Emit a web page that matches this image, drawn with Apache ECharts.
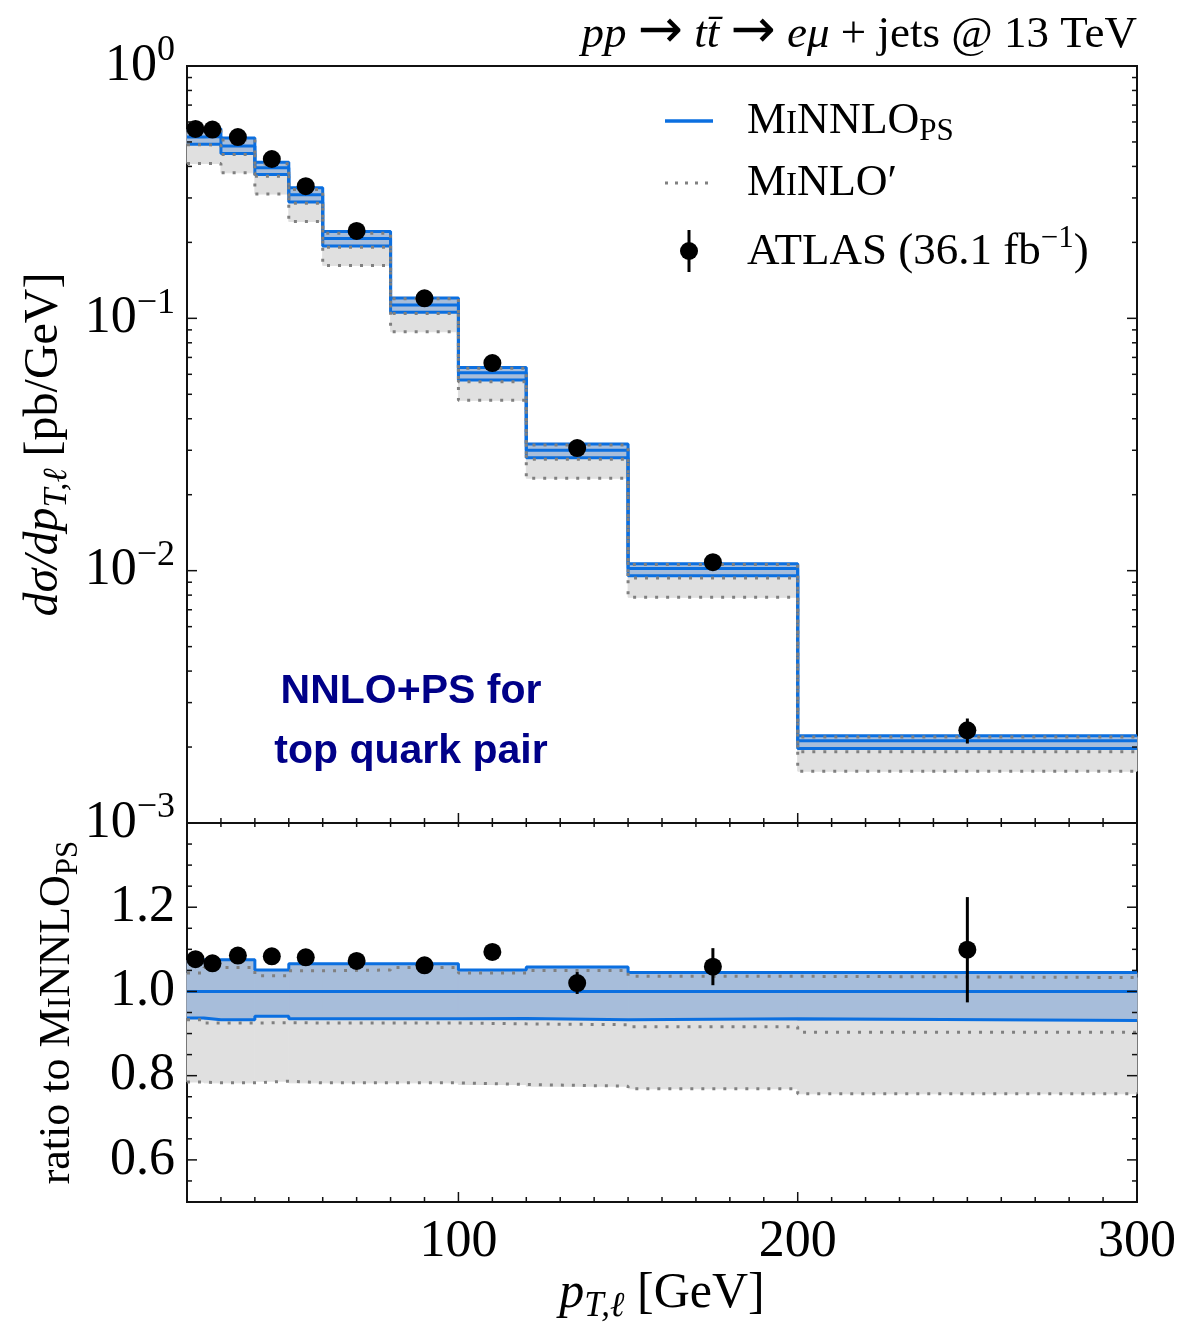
<!DOCTYPE html>
<html>
<head>
<meta charset="utf-8">
<script src="https://cdn.jsdelivr.net/npm/echarts@6/dist/echarts.min.js"></script>
<style>
  html, body { margin: 0; padding: 0; background: #fff; }
  #chart { width: 1179px; height: 1323px; }
</style>
</head>
<body>
<div id="chart"></div>
<script>
// Lepton pT spectrum in ttbar -> e mu + jets, 13 TeV
const binEdges = [20, 25, 30, 40, 50, 60, 80, 100, 120, 150, 200, 300];
const atlasPt = [22.5, 27.5, 35, 45, 55, 70, 90, 110, 135, 175, 250];

// MiNNLO_PS central prediction, dsigma/dpT [pb/GeV]
const minnloCentral = [0.523, 0.525, 0.482, 0.395, 0.309, 0.207, 0.113, 0.0608, 0.0300, 0.0102, 0.00212];
// scale-variation band edges, relative to MiNNLO_PS central
const minnloUpRatio   = [1.075, 1.075, 1.075, 1.051, 1.066, 1.066, 1.066, 1.051, 1.058, 1.045, 1.045];
const minnloDownRatio = [0.937, 0.933, 0.933, 0.941, 0.935, 0.935, 0.935, 0.936, 0.933, 0.935, 0.931];
// MiNLO' central and band, relative to MiNNLO_PS central
const minloCentralRatio = [0.933, 0.925, 0.925, 0.926, 0.925, 0.925, 0.925, 0.923, 0.921, 0.916, 0.903];
const minloUpRatio      = [1.044, 1.057, 1.057, 1.037, 1.049, 1.051, 1.057, 1.044, 1.050, 1.036, 1.033];
const minloDownRatio    = [0.785, 0.783, 0.783, 0.787, 0.783, 0.783, 0.783, 0.779, 0.775, 0.769, 0.757];
// ATLAS data [pb/GeV] and its uncertainty in ratio units
const atlasValue    = [0.563, 0.560, 0.523, 0.428, 0.334, 0.222, 0.120, 0.0665, 0.0306, 0.0108, 0.00233];
const atlasRatioErr = [0.015, 0.015, 0.015, 0.015, 0.015, 0.015, 0.016, 0.018, 0.026, 0.044, 0.125];

// axis tick labels
const ratioTickLabels = ['0.6', '0.8', '1.0', '1.2'];
const ptTickLabels = ['100', '200', '300'];

const SERIF = '"Liberation Serif", "DejaVu Serif", serif';
const SANS = '"Liberation Sans", Arial, sans-serif';
const BLUE = '#0b6fe0';
const BLUE_FILL = '#a7bdda';
const GREY_FILL = '#e0e0e0';
const GREY_LINE = '#808080';
const X_MIN = 20, X_MAX = 300;
const Y_MIN = 0.001, Y_MAX = 1;
const R_MIN = 0.5, R_MAX = 1.4;

// derived quantities
const times = (a, b) => a.map((v, i) => v * b[i]);
const minnloUp = times(minnloCentral, minnloUpRatio);
const minnloDown = times(minnloCentral, minnloDownRatio);
const minloCentral = times(minnloCentral, minloCentralRatio);
const minloUp = times(minnloCentral, minloUpRatio);
const minloDown = times(minnloCentral, minloDownRatio);
const atlasRatio = atlasValue.map((v, i) => v / minnloCentral[i]);
const atlasErr = atlasRatioErr.map((e, i) => e * minnloCentral[i]);
const minnloRatioCentral = minnloCentral.map(v => v / v);

// rich-text styles for math-like labels
function mathRich(size) {
  const sm = Math.round(size * 0.7);
  return {
    r: { fontFamily: SERIF, fontSize: size, color: '#000' },
    i: { fontFamily: SERIF, fontStyle: 'italic', fontSize: size, color: '#000' },
    s: { fontFamily: SERIF, fontStyle: 'italic', fontSize: sm, color: '#000', padding: [Math.round(size * 0.5), 0, 0, 0] },
    ss: { fontFamily: SERIF, fontSize: sm, color: '#000', padding: [Math.round(size * 0.5), 0, 0, 0] },
    sup: { fontFamily: SERIF, fontSize: sm, color: '#000', padding: [0, 0, Math.round(size * 0.6), 0] },
    sc: { fontFamily: SERIF, fontSize: Math.round(size * 0.75), color: '#000', padding: [Math.round(size * 0.165), 0, 0, 0] },
    ar: { fontFamily: '"DejaVu Sans", sans-serif', fontSize: Math.round(size * 1.2), color: '#000', padding: [0, 0, Math.round(size * 0.08), 0] }
  };
}

// histogram helpers
function stepPoints(values) {
  const pts = values.map((v, i) => [binEdges[i], v]);
  pts.push([binEdges[binEdges.length - 1], values[values.length - 1]]);
  return pts;
}
function bandSeries(grid, lo, hi, color, z) {
  return {
    type: 'custom', xAxisIndex: grid, yAxisIndex: grid, z, silent: true,
    data: lo.map((l, i) => [binEdges[i], binEdges[i + 1], l, hi[i]]),
    encode: { x: [0, 1], y: [2, 3] },
    renderItem(params, api) {
      const p1 = api.coord([api.value(0), api.value(3)]);
      const p2 = api.coord([api.value(1), api.value(2)]);
      return { type: 'rect', shape: { x: p1[0], y: p1[1], width: p2[0] - p1[0], height: p2[1] - p1[1] },
               style: { fill: color, stroke: color, lineWidth: 1 } };
    }
  };
}
function stepLine(grid, values, lineStyle, z) {
  return {
    type: 'line', xAxisIndex: grid, yAxisIndex: grid, z, silent: true,
    data: stepPoints(values), step: 'end', symbol: 'none', lineStyle
  };
}
const blueLine = { color: BLUE, width: 3 };
const dotLine = { color: GREY_LINE, width: 3, type: [3, 8] };

function errorBars(grid, xs, ys, errs) {
  return {
    type: 'custom', xAxisIndex: grid, yAxisIndex: grid, z: 8, silent: true,
    data: xs.map((x, i) => [x, ys[i] - errs[i], ys[i] + errs[i]]),
    encode: { x: 0, y: [1, 2] },
    renderItem(params, api) {
      const a = api.coord([api.value(0), api.value(1)]);
      const b = api.coord([api.value(0), api.value(2)]);
      return { type: 'line', shape: { x1: a[0], y1: a[1], x2: b[0], y2: b[1] },
               style: { stroke: '#000', lineWidth: 3 } };
    }
  };
}
function dots(grid, xs, ys) {
  return {
    type: 'scatter', xAxisIndex: grid, yAxisIndex: grid, z: 9, silent: true,
    data: xs.map((x, i) => [x, ys[i]]), symbol: 'circle', symbolSize: 18,
    itemStyle: { color: '#000', opacity: 1 }
  };
}

// inward tick marks: [x, y, dx, dy] anchored on the frame, length in pixels
function tickSeries(grid, items) {
  return {
    type: 'custom', xAxisIndex: grid, yAxisIndex: grid, z: 20, silent: true,
    data: items, encode: { x: 0, y: 1 },
    renderItem(params, api) {
      const p = api.coord([api.value(0), api.value(1)]);
      return { type: 'line', shape: { x1: p[0], y1: p[1], x2: p[0] + api.value(2), y2: p[1] + api.value(3) },
               style: { stroke: '#111', lineWidth: 1.5 } };
    }
  };
}
const topTicks = [];
const botTicks = [];
for (let v = X_MIN; v <= X_MAX; v += 10) {
  const major = v % 100 === 0;
  topTicks.push([v, Y_MIN, 0, major ? -10 : -5]);
  botTicks.push([v, R_MIN, 0, major ? -10 : -5]);
  botTicks.push([v, R_MAX, 0, 4]);
}
for (let e = -3; e <= 0; e++) {
  const base = Math.pow(10, e);
  topTicks.push([X_MIN, base, 10, 0], [X_MAX, base, -10, 0]);
  if (e < 0) {
    for (let k = 2; k <= 9; k++) {
      topTicks.push([X_MIN, k * base, 5, 0], [X_MAX, k * base, -5, 0]);
    }
  }
}
for (let k = 10; k <= 28; k++) {
  const v = k / 20;
  const len = k % 4 === 0 ? 10 : 5;
  botTicks.push([X_MIN, v, len, 0], [X_MAX, v, -len, 0]);
}

const chart = echarts.init(document.getElementById('chart'), null, { renderer: 'canvas' });

const option = {
  animation: false,
  backgroundColor: '#fff',
  grid: [
    { left: 187, right: 42, top: 66, height: 757, show: true, borderColor: '#111', borderWidth: 2, outerBoundsMode: 'none' },
    { left: 187, right: 42, top: 823, height: 379, show: true, borderColor: '#111', borderWidth: 2, outerBoundsMode: 'none' }
  ],
  xAxis: [
    { gridIndex: 0, type: 'value', min: X_MIN, max: X_MAX, interval: 10,
      axisLine: { show: false }, axisTick: { show: false }, axisLabel: { show: false }, splitLine: { show: false } },
    { gridIndex: 1, type: 'value', min: X_MIN, max: X_MAX, interval: 10,
      axisLine: { show: false }, axisTick: { show: false }, splitLine: { show: false },
      axisLabel: {
        margin: 14, fontFamily: SERIF, fontSize: 52, color: '#000',
        formatter: v => (ptTickLabels.indexOf(String(v)) >= 0 ? String(v) : '')
      },
      name: '{i|p}{s|T,ℓ}{r| [GeV]}', nameLocation: 'middle', nameGap: 62,
      nameTextStyle: { rich: mathRich(50) } }
  ],
  yAxis: [
    { gridIndex: 0, type: 'log', logBase: 10, min: Y_MIN, max: Y_MAX,
      axisLine: { show: false }, axisTick: { show: false }, splitLine: { show: false }, minorSplitLine: { show: false },
      axisLabel: {
        margin: 12,
        formatter: v => {
          const e = Math.round(Math.log10(v));
          return '{b|10}{e|' + (e === 0 ? '0' : '\u2212' + (-e)) + '}';
        },
        rich: {
          b: { fontFamily: SERIF, fontSize: 52, color: '#000' },
          e: { fontFamily: SERIF, fontSize: 36, color: '#000', padding: [0, 0, 30, 0] }
        }
      },
      name: '{i|dσ/dp}{s|T,ℓ}{r| [pb/GeV]}', nameLocation: 'middle', nameRotate: 90, nameGap: 104,
      nameTextStyle: { rich: mathRich(48) } },
    { gridIndex: 1, type: 'value', min: R_MIN, max: R_MAX, interval: 0.1,
      axisLine: { show: false }, axisTick: { show: false }, splitLine: { show: false },
      axisLabel: {
        margin: 12, fontFamily: SERIF, fontSize: 52, color: '#000',
        formatter: v => {
          const s = v.toFixed(1);
          return ratioTickLabels.indexOf(s) >= 0 ? s : '';
        }
      },
      name: '{r|ratio to M}{sc|I}{r|NNLO}{ss|PS}', nameLocation: 'middle', nameRotate: 90, nameGap: 103,
      nameTextStyle: { rich: mathRich(44) } }
  ],
  series: [
    // upper panel
    bandSeries(0, minloDown, minloUp, GREY_FILL, 1),
    bandSeries(0, minnloDown, minnloUp, BLUE_FILL, 2),
    stepLine(0, minnloUp, blueLine, 3),
    stepLine(0, minnloCentral, blueLine, 3),
    stepLine(0, minnloDown, blueLine, 3),
    stepLine(0, minloUp, dotLine, 4),
    stepLine(0, minloCentral, dotLine, 4),
    stepLine(0, minloDown, dotLine, 4),
    errorBars(0, atlasPt, atlasValue, atlasErr),
    dots(0, atlasPt, atlasValue),
    tickSeries(0, topTicks),
    // ratio panel
    bandSeries(1, minloDownRatio, minloUpRatio, GREY_FILL, 1),
    bandSeries(1, minnloDownRatio, minnloUpRatio, BLUE_FILL, 2),
    stepLine(1, minnloUpRatio, blueLine, 3),
    stepLine(1, minnloRatioCentral, blueLine, 3),
    stepLine(1, minnloDownRatio, blueLine, 3),
    stepLine(1, minloUpRatio, dotLine, 4),
    stepLine(1, minloCentralRatio, dotLine, 4),
    stepLine(1, minloDownRatio, dotLine, 4),
    errorBars(1, atlasPt, atlasRatio, atlasRatioErr),
    dots(1, atlasPt, atlasRatio),
    tickSeries(1, botTicks)
  ],
  graphic: [
    // process label
    { type: 'text', x: 1137, y: 35, z: 30,
      style: { text: '{i|pp}{r| }{ar|→}{r| }{i|tt\u0304}{r| }{ar|→}{r| }{i|eμ}{r| + jets @ 13 TeV}', rich: mathRich(45),
               align: 'right', verticalAlign: 'middle' } },
    // legend
    { type: 'line', z: 30, shape: { x1: 665, y1: 121, x2: 713, y2: 121 }, style: { stroke: BLUE, lineWidth: 3.5 } },
    { type: 'text', x: 747, y: 121, z: 30,
      style: { text: '{r|M}{sc|I}{r|NNLO}{ss|PS}', rich: mathRich(44), verticalAlign: 'middle' } },
    { type: 'line', z: 30, shape: { x1: 665, y1: 183, x2: 713, y2: 183 }, style: { stroke: GREY_LINE, lineWidth: 3, lineDash: [3, 7] } },
    { type: 'text', x: 747, y: 183, z: 30,
      style: { text: '{r|M}{sc|I}{r|NLO\u2032}', rich: mathRich(44), verticalAlign: 'middle' } },
    { type: 'line', z: 30, shape: { x1: 689, y1: 230, x2: 689, y2: 272 }, style: { stroke: '#000', lineWidth: 3 } },
    { type: 'circle', z: 30, shape: { cx: 689, cy: 251, r: 9 }, style: { fill: '#000' } },
    { type: 'text', x: 747, y: 252, z: 30,
      style: { text: '{r|ATLAS (36.1 fb}{sup|\u22121}{r|)}', rich: mathRich(45), verticalAlign: 'middle' } },
    // annotation
    { type: 'text', x: 411, y: 722, z: 30,
      style: { text: 'NNLO+PS for\ntop quark pair', fontFamily: SANS, fontWeight: 'bold', fontSize: 41,
               lineHeight: 60, fill: '#000088', align: 'center', verticalAlign: 'middle' } }
  ]
};

chart.setOption(option);
</script>
</body>
</html>
